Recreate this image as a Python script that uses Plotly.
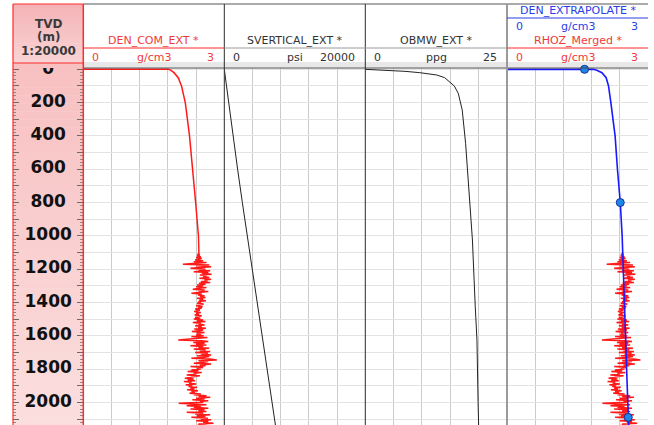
import plotly.graph_objects as go

W, H = 654, 425

# ---------------- data ----------------
# DEN_COM_EXT, smooth upper section (TVD m, g/cm3)
den_top_depth = [0, 0, 5, 20, 50, 100, 150, 200, 400, 600, 800, 1000, 1095]
den_top_vals = [0.0, 1.81, 1.86, 1.93, 2.02, 2.09, 2.13, 2.17, 2.26, 2.33, 2.39, 2.45, 2.46]

# measured bulk density section, sampled every 5 m from 1100 m
log_depth = list(range(1100, 2155, 5))
log_vals = [
    2.45, 2.46, 2.44, 2.48, 2.42, 2.50, 2.40, 2.52, 2.44, 2.38,
    2.55, 2.35, 2.62, 2.30, 2.12, 2.68, 2.40, 2.72, 2.50, 2.28,
    2.60, 2.45, 2.70, 2.35, 2.66, 2.52, 2.73, 2.48, 2.62, 2.55,
    2.68, 2.47, 2.72, 2.58, 2.65, 2.50, 2.70, 2.46, 2.60, 2.42,
    2.55, 2.40, 2.62, 2.48, 2.33, 2.58, 2.45, 2.66, 2.38, 2.30,
    2.52, 2.44, 2.58, 2.48, 2.60, 2.42, 2.55, 2.47, 2.61, 2.45,
    2.50, 2.42, 2.56, 2.46, 2.40, 2.54, 2.44, 2.52, 2.38, 2.48,
    2.42, 2.36, 2.50, 2.40, 2.46, 2.37, 2.52, 2.43, 2.38, 2.49,
    2.35, 2.55, 2.42, 2.60, 2.33, 2.50, 2.45, 2.58, 2.38, 2.52,
    2.44, 2.61, 2.36, 2.55, 2.47, 2.31, 2.58, 2.42, 2.50, 2.40,
    2.56, 2.30, 2.64, 2.45, 2.27, 2.02, 2.52, 2.66, 2.34, 2.58,
    2.40, 2.62, 2.28, 2.55, 2.45, 2.68, 2.35, 2.60, 2.48, 2.70,
    2.38, 2.65, 2.50, 2.72, 2.42, 2.68, 2.55, 2.30, 2.70, 2.84,
    2.45, 2.66, 2.52, 2.35, 2.72, 2.48, 2.60, 2.28, 2.55, 2.42,
    2.50, 2.30, 2.45, 2.22, 2.52, 2.35, 2.40, 2.20, 2.48, 2.32,
    2.28, 2.16, 2.35, 2.22, 2.38, 2.14, 2.30, 2.25, 2.40, 2.18,
    2.32, 2.24, 2.42, 2.28, 2.36, 2.21, 2.44, 2.30, 2.38, 2.26,
    2.50, 2.35, 2.62, 2.45, 2.70, 2.40, 2.58, 2.32, 2.66, 2.48,
    2.55, 2.03, 2.40, 2.62, 2.20, 2.50, 2.35, 2.66, 2.28, 2.58,
    2.45, 2.62, 2.20, 2.55, 2.38, 2.70, 2.42, 2.60, 2.30, 2.65,
    2.50, 2.72, 2.40, 2.66, 2.55, 2.77, 2.45, 2.62, 2.38, 2.70,
    2.55,
]

# SVERTICAL_EXT (psi)
sv_depth = [0, 200, 400, 600, 800, 1000, 1200, 1400, 1600, 1800, 2000, 2150]
sv_vals = [0, 600, 1230, 1890, 2560, 3250, 3950, 4660, 5380, 6080, 6780, 7300]

# OBMW_EXT (ppg)
obmw_depth = [0, 4, 12, 20, 34, 50, 74, 100, 144, 244, 445, 745, 1025, 1426, 1626, 2000, 2150]
obmw_vals = [0.0, 3.1, 7.0, 9.6, 12.6, 14.0, 14.9, 15.7, 16.4, 17.1, 17.7, 18.3, 18.9, 19.4, 19.7, 19.9, 20.0]

# DEN_EXTRAPOLATE (g/cm3) and its control points
ext_depth = [0, 0, 5, 20, 50, 100, 200, 400, 600, 800, 1000, 1200, 1400, 1600, 1800, 2000, 2090, 2150]
ext_vals = [0.0, 1.84, 1.91, 2.02, 2.11, 2.16, 2.21, 2.30, 2.35, 2.41, 2.45, 2.47, 2.50, 2.52, 2.545, 2.57, 2.58, 2.59]
ctrl_depth = [0, 800, 2090]
ctrl_vals = [1.65, 2.41, 2.58]

depth_labels = [0, 200, 400, 600, 800, 1000, 1200, 1400, 1600, 1800, 2000]

# ---------------- geometry helpers ----------------
def X(px):
    return px / W


def Y(py):
    return 1 - py / H


edges = [13, 83.3, 224.3, 365.3, 507, 648]
data_top = 68
y_dom = [0, Y(data_top)]
depth_range = [2136, -8]

RED = "#ff1a1a"
RED_TXT = "#f03a3a"
BLUE = "#1a1aff"
BLUE_TXT = "#2a3ee8"
DARK = "#333333"
FONT = "DejaVu Sans"

fig = go.Figure()

# depth labels in the depth column
fig.add_trace(go.Scatter(
    x=[0.5] * len(depth_labels), y=depth_labels, text=[str(d) for d in depth_labels],
    mode="text", textfont=dict(family=FONT, size=17, color="#111111", weight="bold"),
    xaxis="x", yaxis="y", hoverinfo="skip", showlegend=False, cliponaxis=True,
))
# companion trace for the right-hand tick axis of the depth column
fig.add_trace(go.Scatter(x=[None], y=[None], xaxis="x", yaxis="y6", showlegend=False, hoverinfo="skip"))

# track 1: DEN_COM_EXT
fig.add_trace(go.Scatter(
    x=den_top_vals + log_vals, y=den_top_depth + log_depth, mode="lines",
    line=dict(color=RED, width=1.5), xaxis="x2", yaxis="y2", showlegend=False,
))
# track 2: SVERTICAL_EXT
fig.add_trace(go.Scatter(
    x=sv_vals, y=sv_depth, mode="lines", line=dict(color="#222222", width=1),
    xaxis="x3", yaxis="y3", showlegend=False,
))
# track 3: OBMW_EXT
fig.add_trace(go.Scatter(
    x=obmw_vals, y=obmw_depth, mode="lines", line=dict(color="#222222", width=1),
    xaxis="x4", yaxis="y4", showlegend=False,
))
# track 4: RHOZ_Merged + DEN_EXTRAPOLATE
fig.add_trace(go.Scatter(
    x=log_vals, y=log_depth, mode="lines", line=dict(color=RED, width=1.5),
    xaxis="x5", yaxis="y5", showlegend=False,
))
fig.add_trace(go.Scatter(
    x=ext_vals, y=ext_depth, mode="lines", line=dict(color=BLUE, width=1.6),
    xaxis="x5", yaxis="y5", showlegend=False,
))
fig.add_trace(go.Scatter(
    x=ctrl_vals, y=ctrl_depth, mode="markers",
    marker=dict(size=8, color="#1f86e8", line=dict(color="#1030a0", width=1)),
    xaxis="x5", yaxis="y5", showlegend=False, cliponaxis=False,
))

# ---------------- axes ----------------
tick_common = dict(
    ticks="inside", ticklen=6, tickwidth=1, tickcolor="#6a6a6a", tick0=0, dtick=100,
    minor=dict(ticks="inside", ticklen=3, tickwidth=1, tickcolor="#8a8a8a", dtick=20),
    showticklabels=False, showgrid=False, zeroline=False, showline=False,
)
layout_axes = dict(
    xaxis=dict(domain=[X(edges[0]), X(edges[1])], range=[0, 1], anchor="y",
               showgrid=False, zeroline=False, showticklabels=False, ticks=""),
    yaxis=dict(domain=y_dom, range=depth_range, anchor="x", side="left", **tick_common),
    yaxis6=dict(range=depth_range, anchor="x", overlaying="y", side="right", **tick_common),
)
x_ranges = [[0, 3], [0, 20000], [0, 25], [0, 3]]
x_dticks = [0.6, 4000, 5, 0.6]
for i in range(4):
    n = i + 2
    layout_axes[f"xaxis{n}"] = dict(
        domain=[X(edges[i + 1]), X(edges[i + 2])], range=x_ranges[i], dtick=x_dticks[i], tick0=0,
        anchor=f"y{n}", showgrid=True, gridcolor="#cbcbcb", gridwidth=1,
        zeroline=False, showticklabels=False, ticks="", showline=False,
    )
    layout_axes[f"yaxis{n}"] = dict(
        domain=y_dom, range=depth_range, anchor=f"x{n}", matches="y",
        showgrid=True, gridcolor="#e3e3e3", gridwidth=1, dtick=100, tick0=0,
        zeroline=False, showticklabels=False, ticks="", showline=False,
    )

# ---------------- shapes ----------------
shapes = []


def hline(y, x0, x1, color, width=1):
    shapes.append(dict(type="line", xref="paper", yref="paper", x0=X(x0), x1=X(x1),
                       y0=Y(y), y1=Y(y), line=dict(color=color, width=width)))


def vline(x, y0, y1, color, width=1):
    shapes.append(dict(type="line", xref="paper", yref="paper", x0=X(x), x1=X(x),
                       y0=Y(y0), y1=Y(y1), line=dict(color=color, width=width)))


def gradient(x0, x1, y0, y1, c_top, c_bot, n):
    step = (y1 - y0) / n
    for k in range(n):
        t = k / (n - 1)
        c = tuple(round(a + (b - a) * t) for a, b in zip(c_top, c_bot))
        shapes.append(dict(type="rect", xref="paper", yref="paper", layer="below",
                           x0=X(x0), x1=X(x1), y0=Y(y0 + step * k), y1=Y(y0 + step * (k + 1) + 0.5),
                           fillcolor=f"rgb{c}", line=dict(width=0)))


# pink depth column: header box and body
gradient(edges[0], edges[1], 4, 63, (244, 180, 183), (249, 210, 211), 15)
gradient(edges[0], edges[1], 63, H, (248, 192, 193), (251, 222, 222), 45)

# header band under the curve titles
shapes.append(dict(type="rect", xref="paper", yref="paper", layer="below",
                   x0=X(edges[1]), x1=X(edges[5]), y0=Y(67), y1=Y(62),
                   fillcolor="#e8e8e8", line=dict(width=0)))
hline(4, edges[1], edges[5], "#555555")
hline(68, edges[1], edges[5], "#444444")

# depth column borders
vline(edges[0], 4, H, "#ff2a2a", 1.2)
vline(edges[1], 4, H, "#ff2a2a", 1.5)
hline(4, edges[0], edges[1], "#ff2a2a", 1.2)
hline(63, edges[0], edges[1], "#ff2a2a", 1.2)

# track separators
vline(edges[2], 4, H, "#2a2a2a", 1)
vline(edges[3], 4, H, "#2a2a2a", 1)
vline(edges[4], 4, H, "#9a9a9a", 2)

# header scale separators
hline(48, edges[1], edges[2], "#ff2a2a", 1)
hline(48, edges[2], edges[4], "#9a9a9a", 1)
hline(18, edges[4], edges[5], "#2a3ee8", 1.2)
hline(48, edges[4], edges[5], "#ff2a2a", 1)

# ---------------- header text ----------------
annotations = []


def text(s, x, y, color=DARK, size=11, anchor="center", bold=False):
    annotations.append(dict(
        text=f"<b>{s}</b>" if bold else s, x=X(x), y=Y(y), xref="paper", yref="paper",
        xanchor=anchor, yanchor="middle", showarrow=False,
        font=dict(family=FONT, size=size, color=color),
    ))


def scale_row(i, y, lo, unit, hi, color):
    x0, x1 = edges[i], edges[i + 1]
    text(lo, x0 + 7, y, color, anchor="left")
    text(unit, (x0 + x1) / 2, y, color)
    text(hi, x1 - 8, y, color, anchor="right")


text("TVD", 48, 23.5, "#3a3a3a", 12, bold=True)
text("(m)", 48, 37, "#3a3a3a", 12, bold=True)
text("1:20000", 48, 51, "#3a3a3a", 12, bold=True)

text("DEN_COM_EXT *", (edges[1] + edges[2]) / 2, 41, RED_TXT)
scale_row(1, 57, "0", "g/cm3", "3", RED_TXT)

text("SVERTICAL_EXT *", (edges[2] + edges[3]) / 2, 41, DARK)
scale_row(2, 57, "0", "psi", "20000", DARK)

text("OBMW_EXT *", (edges[3] + edges[4]) / 2, 41, DARK)
scale_row(3, 57, "0", "ppg", "25", DARK)

text("DEN_EXTRAPOLATE *", (edges[4] + edges[5]) / 2, 11, BLUE_TXT)
scale_row(4, 27, "0", "g/cm3", "3", BLUE_TXT)
text("RHOZ_Merged *", (edges[4] + edges[5]) / 2, 41, RED_TXT)
scale_row(4, 57, "0", "g/cm3", "3", RED_TXT)

fig.update_layout(
    width=W, height=H, margin=dict(l=0, r=0, t=0, b=0),
    paper_bgcolor="white", plot_bgcolor="rgba(0,0,0,0)",
    shapes=shapes, annotations=annotations, showlegend=False,
    font=dict(family=FONT), **layout_axes,
)

fig.write_html("out.html")
